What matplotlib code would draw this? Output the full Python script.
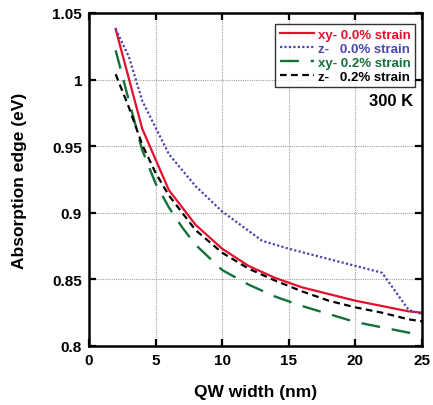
import matplotlib
matplotlib.use("Agg")
import matplotlib.pyplot as plt

plt.rcParams['font.family'] = ['Liberation Sans', 'DejaVu Sans']
plt.rcParams['font.weight'] = 'bold'

# Data
x_xy00 = [2, 4, 6, 8, 10, 12, 14, 16, 18, 20, 22, 24, 25]
y_xy00 = [1.038, 0.963, 0.917, 0.891, 0.873, 0.860, 0.851, 0.844, 0.839, 0.834, 0.830, 0.826, 0.825]

x_z00 = [2, 3, 4, 5, 6, 8, 10, 13, 15, 22, 24, 25]
y_z00 = [1.038, 1.017, 0.984, 0.964, 0.944, 0.920, 0.901, 0.879, 0.873, 0.855, 0.827, 0.824]

x_xy02 = [2, 3, 4, 5, 6, 7, 8, 10, 12, 14, 16, 18, 20, 22, 24, 25]
y_xy02 = [1.022, 0.984, 0.947, 0.922, 0.904, 0.889, 0.876, 0.857, 0.846, 0.837, 0.830, 0.824, 0.818, 0.814, 0.810, 0.808]

x_z02 = [2, 3, 4, 5, 6, 8, 10, 12, 14, 16, 18, 20, 22, 24, 25]
y_z02 = [1.004, 0.979, 0.951, 0.930, 0.913, 0.887, 0.870, 0.858, 0.849, 0.841, 0.834, 0.829, 0.825, 0.820, 0.8185]

labels = ["xy- 0.0% strain", "z-   0.0% strain", "xy- 0.2% strain", "z-   0.2% strain"]
colors = ["#e3102d", "#4a46b0", "#16703a", "#000000"]
x_ticks = [0, 5, 10, 15, 20, 25]
x_ticklabels = ["0", "5", "10", "15", "20", "25"]
y_ticks = [0.8, 0.85, 0.9, 0.95, 1.0, 1.05]
y_ticklabels = ["0.8", "0.85", "0.9", "0.95", "1", "1.05"]

fig = plt.figure(figsize=(4.33, 4.06), dpi=100)
ax = fig.add_axes([89/433, 1 - 347/406, (422 - 89)/433, (347 - 14)/406])

ax.plot(x_xy00, y_xy00, color=colors[0], lw=1.6, ls='-', label=labels[0])
ax.plot(x_z00, y_z00, color=colors[1], lw=1.6, ls=(0, (1, 1)), label=labels[1])
ax.plot(x_xy02, y_xy02, color=colors[2], lw=1.7, ls=(0, (8, 5)), label=labels[2])
ax.plot(x_z02, y_z02, color=colors[3], lw=1.6, ls=(0, (3, 2)), label=labels[3])

ax.set_xlim(0, 25)
ax.set_ylim(0.8, 1.05)
ax.set_xticks(x_ticks)
ax.set_xticklabels(x_ticklabels)
ax.set_yticks(y_ticks)
ax.set_yticklabels(y_ticklabels)
ax.grid(True, color='#a0a0a0', ls=(0, (1, 1)), lw=0.8)
ax.set_axisbelow(True)

ax.tick_params(direction='in', top=True, right=True, length=5, width=1.6,
               labelsize=11, pad=5)
for lab in ax.get_xticklabels() + ax.get_yticklabels():
    lab.set_fontweight('bold')
for s in ax.spines.values():
    s.set_linewidth(1.8)

ax.set_xlabel("QW width (nm)", fontsize=12.5, fontweight='bold', va='center')
ax.set_ylabel("Absorption edge (eV)", fontsize=12.5, fontweight='bold', va='center')
ax.xaxis.set_label_coords(0.5, (347 - 393) / 333)
ax.yaxis.set_label_coords((20 - 89) / 333, 0.5)

leg = ax.legend(loc='upper right', bbox_to_anchor=(0.98, 0.968), fontsize=9.5,
                frameon=True, fancybox=False, edgecolor='black', handlelength=2.6,
                handletextpad=0.3, borderpad=0.35, labelspacing=0.14, borderaxespad=0)
leg.get_frame().set_linewidth(1.0)
for t, c in zip(leg.get_texts(), colors):
    t.set_color(c)
    t.set_fontweight('bold')

ax.text((413 - 89) / 333, (347 - 102) / 333, "300 K", transform=ax.transAxes,
        ha='right', va='center', fontsize=12, fontweight='bold')

fig.savefig("out.png", dpi=100)
